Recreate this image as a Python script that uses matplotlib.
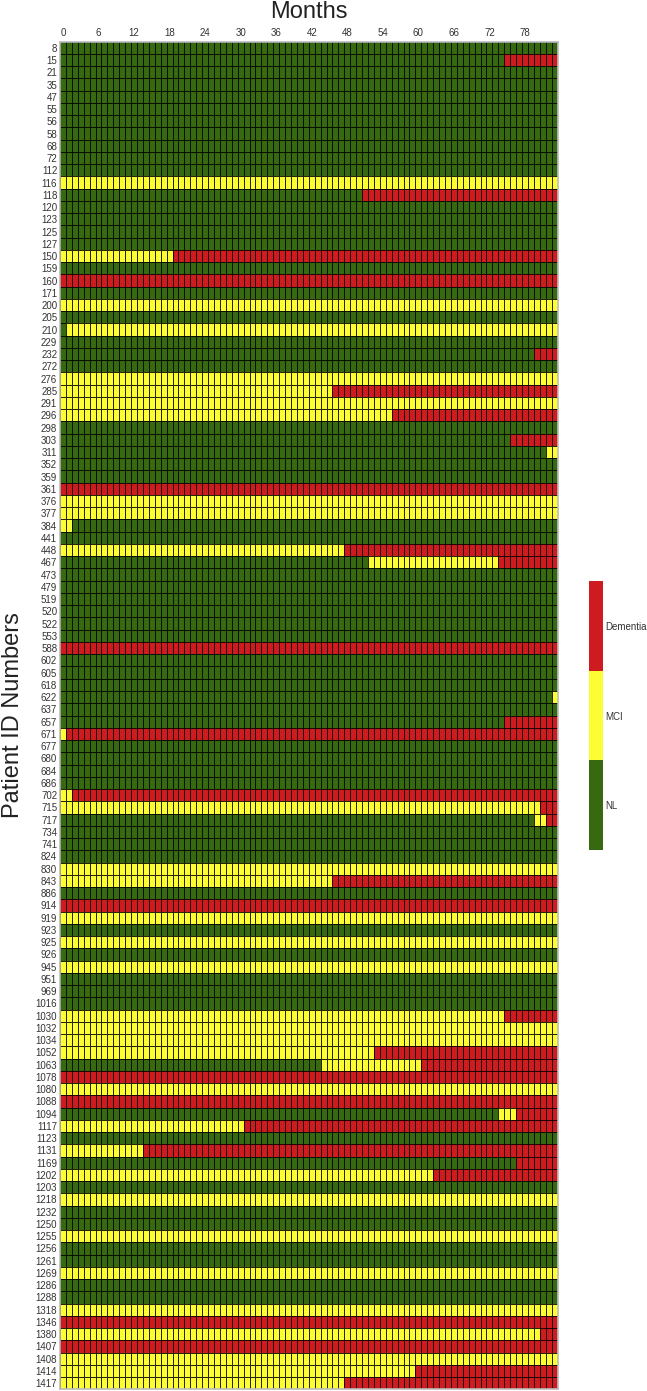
import numpy as np
import matplotlib
matplotlib.use("Agg")
import matplotlib.pyplot as plt
from matplotlib.colors import ListedColormap, BoundaryNorm
from matplotlib.cm import ScalarMappable

plt.rcParams['font.family'] = ['Liberation Sans', 'DejaVu Sans']

# ---------------- data ----------------
patient_ids = [8, 15, 21, 35, 47, 55, 56, 58, 68, 72,
               112, 116, 118, 120, 123, 125, 127, 150, 159, 160,
               171, 200, 205, 210, 229, 232, 272, 276, 285, 291,
               296, 298, 303, 311, 352, 359, 361, 376, 377, 384,
               441, 448, 467, 473, 479, 519, 520, 522, 553, 588,
               602, 605, 618, 622, 637, 657, 671, 677, 680, 684,
               686, 702, 715, 717, 734, 741, 824, 830, 843, 886,
               914, 919, 923, 925, 926, 945, 951, 969, 1016, 1030,
               1032, 1034, 1052, 1063, 1078, 1080, 1088, 1094, 1117, 1123,
               1131, 1169, 1202, 1203, 1218, 1232, 1250, 1255, 1256, 1261,
               1269, 1286, 1288, 1318, 1346, 1380, 1407, 1408, 1414, 1417]

# diagnosis at month 0: N = NL, M = MCI, D = Dementia
baseline = ("N N N N N N N N N N "
            "N M N N N N N M N D "
            "N M N N N N N M M M "
            "M N N N N N D M M M "
            "N M N N N N N N N D "
            "N N N N N N M N N N "
            "N M M N N N N M M N "
            "D M N M N M N N N M "
            "M M M N D M D N M N "
            "M N M N M N N M N N "
            "M N N M D M D M M M").split()

# later changes of diagnosis: (month, new diagnosis)
changes = [[], [(75, 'D')], [], [], [], [], [], [], [], [],
           [], [], [(51, 'D')], [], [], [], [], [(19, 'D')], [], [],
           [], [], [], [(1, 'M')], [], [(80, 'D')], [], [], [(46, 'D')], [],
           [(56, 'D')], [], [(76, 'D')], [(82, 'M')], [], [], [], [], [], [(2, 'N')],
           [], [(48, 'D')], [(52, 'M'), (74, 'D')], [], [], [], [], [], [], [],
           [], [], [], [(83, 'M')], [], [(75, 'D')], [(1, 'D')], [], [], [],
           [], [(2, 'D')], [(81, 'D')], [(80, 'M'), (82, 'D')], [], [], [], [], [(46, 'D')], [],
           [], [], [], [], [], [], [], [], [], [(75, 'D')],
           [], [], [(53, 'D')], [(44, 'M'), (61, 'D')], [], [], [], [(74, 'M'), (77, 'D')], [(31, 'D')], [],
           [(14, 'D')], [(77, 'D')], [(63, 'D')], [], [], [], [], [], [], [],
           [], [], [], [], [], [(81, 'D')], [], [], [(60, 'D')], [(48, 'D')]]

n_months = 84
month_ticks = list(range(0, 79, 6))
class_names = ['NL', 'MCI', 'Dementia']
class_colors = ['#376a10', '#fdfd33', '#cd1b1f']
code = {'N': 0, 'M': 1, 'D': 2}

# ---------------- build matrix ----------------
grid = np.zeros((len(patient_ids), n_months))
for i, (b, ch) in enumerate(zip(baseline, changes)):
    grid[i, :] = code[b]
    for m, s in ch:
        grid[i, m:] = code[s]

# ---------------- figure ----------------
W, H = 647, 1391
fig = plt.figure(figsize=(W / 100, H / 100), dpi=100)
ax_l, ax_r, ax_t, ax_b = 60, 557.5, 41.7, 1389.3
ax = fig.add_axes([ax_l / W, 1 - ax_b / H, (ax_r - ax_l) / W, (ax_b - ax_t) / H])

cmap = ListedColormap(class_colors)
norm = BoundaryNorm([-0.5, 0.5, 1.5, 2.5], 3)
ax.pcolormesh(np.arange(n_months + 1), np.arange(len(patient_ids) + 1), grid,
              cmap=cmap, norm=norm, edgecolors=(0, 0, 0, 0.85), linewidth=0.72)
ax.set_xlim(0, n_months)
ax.set_ylim(len(patient_ids), 0)

ax.xaxis.tick_top()
ax.set_xticks([m + 0.5 for m in month_ticks])
ax.set_xticklabels([str(m) for m in month_ticks], fontsize=7, color='#333333')
ax.set_yticks(np.arange(len(patient_ids)) + 0.5)
ax.set_yticklabels([str(p) for p in patient_ids], fontsize=7, color='#333333')
ax.tick_params(axis='both', which='both', length=0)
ax.tick_params(axis='x', pad=2.5)
ax.tick_params(axis='y', pad=2)
for sp in ax.spines.values():
    sp.set_color('#bdbdbd')
    sp.set_linewidth(1.2)

fig.text((ax_l + ax_r) / 2 / W, 1 - 18 / H, 'Months', fontsize=17,
         ha='center', va='baseline', color='#222222')
fig.text(13 / W, 1 - 715 / H, 'Patient ID Numbers', fontsize=17, rotation=90,
         ha='center', va='center', color='#222222')

# colorbar
cb_l, cb_r, cb_t, cb_b = 589.3, 602.7, 581, 850
cax = fig.add_axes([cb_l / W, 1 - cb_b / H, (cb_r - cb_l) / W, (cb_b - cb_t) / H])
sm = ScalarMappable(norm=norm, cmap=cmap)
cb = fig.colorbar(sm, cax=cax, ticks=[0, 1, 2])
cb.set_ticklabels(class_names)
cb.outline.set_visible(False)
cax.minorticks_off()
cax.tick_params(which='both', length=0, labelsize=7, pad=2, labelcolor='#333333')

fig.savefig('out.png', dpi=100)
